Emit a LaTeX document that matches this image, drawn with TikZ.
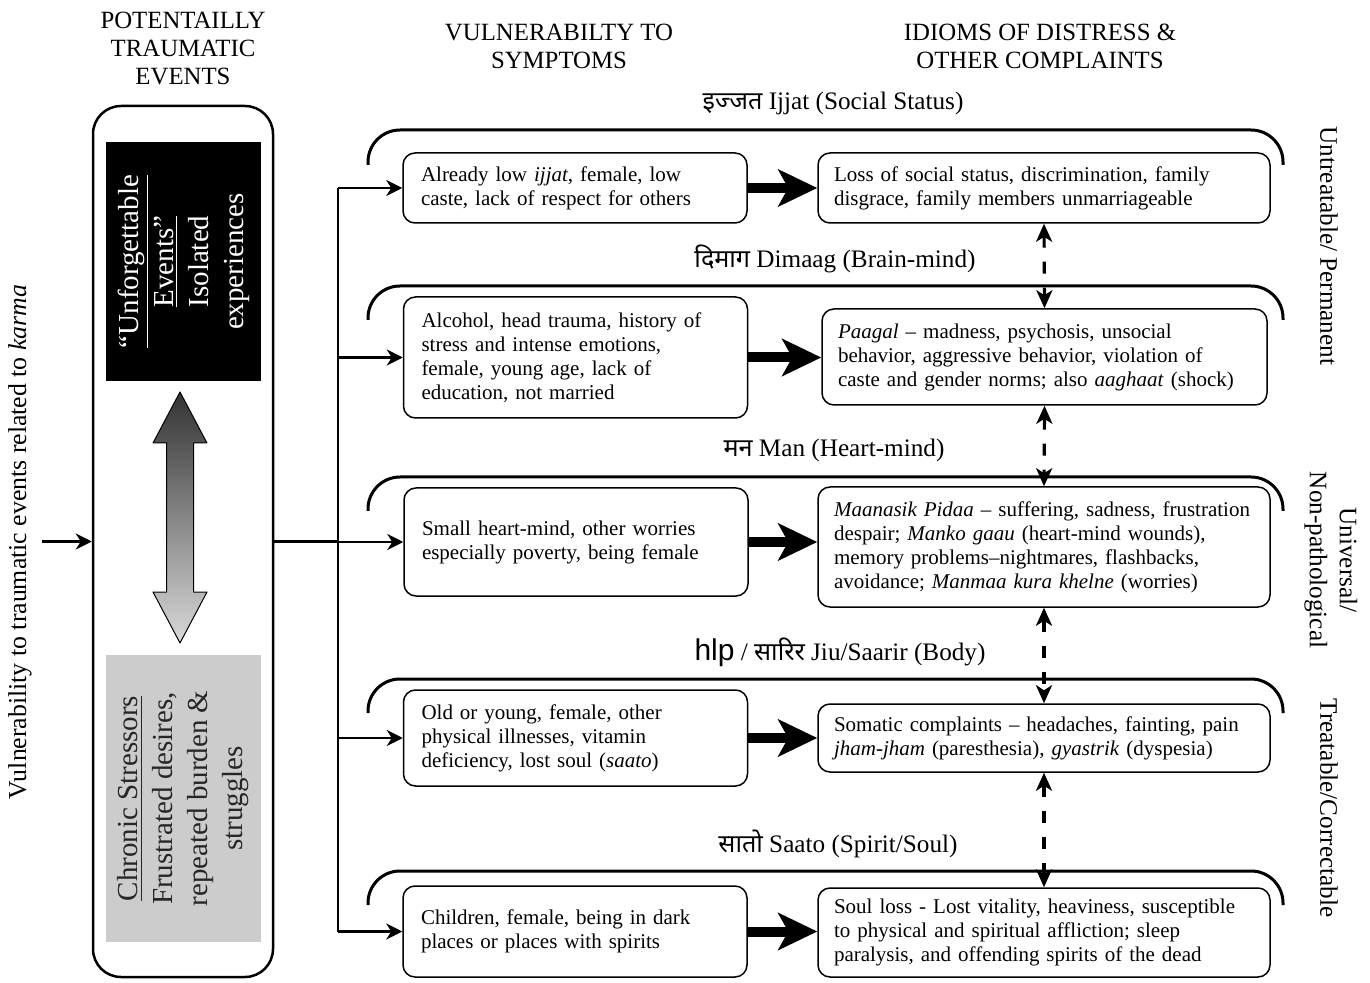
\documentclass[tikz,border=0pt]{standalone}
\usepackage{fontspec}
\setmainfont{Liberation Serif}
\newfontfamily\devfont[Script=Devanagari]{Noto Sans}
\newfontfamily\hlpfont{Liberation Sans}
\usetikzlibrary{arrows.meta, positioning}

\newcommand{\boxfont}{\fontsize{10.5}{12}\selectfont}
\newcommand{\headfont}{\fontsize{12.4}{14}\selectfont}
\newcommand{\labfont}{\fontsize{12.6}{15}\selectfont}
\newcommand{\sidefont}{\fontsize{14.5}{17.5}\selectfont}

\begin{document}
\begin{tikzpicture}[x=0.5pt,y=-0.5pt,line join=round,
	>={Stealth[length=8pt,width=8pt,inset=2.5pt]}]

	\tikzset{symp st/.style={draw, rounded corners=6pt, line width=0.75pt,
			align=left, inner xsep=9pt, inner ysep=0pt, text width=154pt,
			minimum height=#1, font=\boxfont},
		idiom st/.style={symp st=#1, inner xsep=8pt, text width=210pt},
		big st/.style={line width=5pt,
			-{Stealth[length=19.5pt,width=18.5pt,inset=5pt]}},
		link st/.style={line width=1.6pt, dash pattern=on 6pt off 7pt,
			{Stealth[length=9pt,width=8pt,inset=2.5pt]}-{Stealth[length=9pt,width=8pt,inset=2.5pt]}},
		side st/.style={rotate=90, align=center, inner sep=0pt,
			minimum width=#1, minimum height=77.5pt, font=\sidefont}}

	\useasboundingbox (0,0) rectangle (1370,983);

	% column heads
	\node[align=center, font=\headfont] (h events) at (183,48) {POTENTAILLY\\TRAUMATIC\\EVENTS};
	\node[align=center, font=\headfont] (h symp) at (559,46) {VULNERABILTY TO\\SYMPTOMS};
	\node[align=center, font=\headfont] (h idiom) at (1040,46) {IDIOMS OF DISTRESS \&\\OTHER COMPLAINTS};

	% left column
	\node[rotate=90, font=\fontsize{12.9}{15}\selectfont] (vuln) at (20,542)
		{Vulnerability to traumatic events related to \textit{karma}};
	\coordinate (karma in) at (42,541.5);
	\node[draw, rounded corners=14pt, line width=1.25pt, minimum width=90pt,
		minimum height=435.5pt] (events) at (183,541.5) {};
	\node[side st=119.5pt, fill=black, text=white] (unforg) at (183.5,261.5)
		{\underline{``Unforgettable}\\\underline{Events''}\\Isolated\\experiences};
	\node[side st=143.5pt, fill=black!20, text=black!85] (chronic) at (183.5,798.5)
		{\underline{Chronic Stressors}\\Frustrated desires,\\repeated burden \&\\struggles};
	\draw[line width=0.5pt, top color=black!80, bottom color=black!15]
		(180,392) -- (207,443) -- (193.5,443) -- (193.5,592) -- (207,592) -- (180,643)
		-- (153,592) -- (166.5,592) -- (166.5,443) -- (153,443) -- cycle;
	\draw[->, line width=1.1pt] (karma in) -- (events.west);

	% vulnerability boxes
	\node[symp st=35pt] (v1) at (575,188) {Already low \textit{ijjat}, female, low\\caste, lack of respect for others};
	\node[symp st=60.5pt] (v2) at (575.5,357.5) {Alcohol, head trauma, history of\\stress and intense emotions,\\female, young age, lack of\\education, not married};
	\node[symp st=54pt] (v3) at (576,542) {Small heart-mind, other worries\\especially poverty, being female};
	\node[symp st=48pt] (v4) at (575.5,738) {Old or young, female, other\\physical illnesses, vitamin\\deficiency, lost soul (\textit{saato})};
	\node[symp st=45.5pt] (v5) at (575,931.5) {Children, female, being in dark\\places or places with spirits};

	% idioms of distress
	\node[idiom st=35pt] (d1) at (1044,188) {Loss of social status, discrimination, family\\disgrace, family members unmarriageable};
	\node[idiom st=48pt, text width=206.5pt] (d2) at (1044.5,357) {\textit{Paagal} -- madness, psychosis, unsocial\\behavior, aggressive behavior, violation of\\caste and gender norms; also \textit{aaghaat} (shock)};
	\node[idiom st=60pt] (d3) at (1044,547) {\textit{Maanasik Pidaa} -- suffering, sadness, frustration\\despair; \textit{Manko gaau} (heart-mind wounds),\\memory problems--nightmares, flashbacks,\\avoidance; \textit{Manmaa kura khelne} (worries)};
	\node[idiom st=34pt] (d4) at (1044,738) {Somatic complaints -- headaches, fainting, pain\\\textit{jham-jham} (paresthesia), \textit{gyastrik} (dyspesia)};
	\node[idiom st=44.5pt] (d5) at (1044,932.5) {Soul loss - Lost vitality, heaviness, susceptible\\to physical and spiritual affliction; sleep\\paralysis, and offending spirits of the dead};

	% group labels
	\node[font=\labfont] (lab1) at (833,103) {{\devfont इज्जत} Ijjat (Social Status)};
	\node[font=\labfont] (lab2) at (835,259) {{\devfont दिमाग} Dimaag (Brain-mind)};
	\node[font=\labfont] (lab3) at (834,450) {{\devfont मन} Man (Heart-mind)};
	\node[font=\labfont] (lab4) at (840,652) {{\hlpfont\fontsize{15}{15}\selectfont hlp} / {\devfont सारिर} Jiu/Saarir (Body)};
	\node[font=\labfont] (lab5) at (838,844) {{\devfont सातो} Saato (Spirit/Soul)};

	\node[rotate=-90, font=\labfont] (perm) at (1329,246) {Untreatable/ Permanent};
	\node[rotate=-90, align=center, font=\labfont] (univ) at (1331,560) {Universal/\\Non-pathological};
	\node[rotate=-90, font=\labfont] (treat) at (1329,808) {Treatable/Correctable};

	% brackets over each row
	\foreach \t/\b in {130/165, 286/320, 477/511, 679/713, 871/905}
		\draw[line width=1.5pt, rounded corners=16pt] (368,\b) -- (368,\t) -- (1283,\t) -- (1283,\b);

	% connectors
	\coordinate (trunk) at (338,541.5);
	\draw[line width=1.1pt] (events.east) -- (trunk);
	\draw[line width=1.1pt] (trunk |- v1.west) -- (trunk |- v5.west);
	\foreach \i in {1,...,5}{
		\draw[->, line width=1.1pt] (trunk |- v\i.west) -- (v\i.west);
		\draw[big st] (v\i.east) -- (v\i.east -| d\i.west);
	}
	\foreach \i/\j in {1/2, 2/3, 3/4, 4/5}
		\draw[link st] (d\i.south) -- (d\j.north);

\end{tikzpicture}
\end{document}
